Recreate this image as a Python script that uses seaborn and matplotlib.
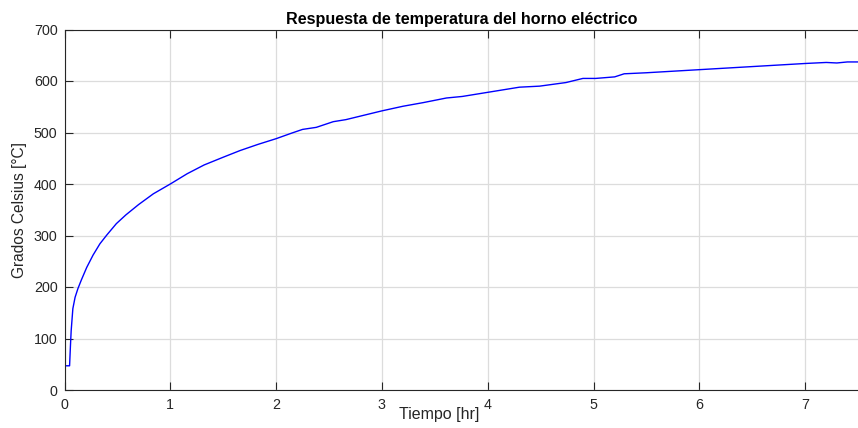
import matplotlib
matplotlib.use("Agg")
import matplotlib.pyplot as plt
import seaborn as sns
import pandas as pd

# Data
time_hr = [0, 0.048, 0.056, 0.063, 0.079, 0.1, 0.127, 0.16, 0.21, 0.27, 0.335, 0.4,
           0.49, 0.58, 0.7, 0.84, 1.0, 1.16, 1.32, 1.5, 1.66, 1.83, 2.0, 2.15,
           2.25, 2.38, 2.54, 2.66, 2.8, 3.0, 3.2, 3.39, 3.61, 3.76, 4.0, 4.3,
           4.49, 4.74, 4.9, 5.02, 5.2, 5.29, 5.5, 6.0, 6.5, 7.0, 7.1, 7.2, 7.3,
           7.4, 7.5]
temp_c = [47, 47, 85, 115, 158, 180, 197, 214, 238, 262, 284, 301,
          323, 340, 360, 381, 400, 420, 437, 452, 465, 477, 488, 499,
          506, 510, 521, 525, 532, 542, 551, 558, 567, 570, 578, 588,
          590, 597, 605, 605, 608, 614, 616, 622, 628, 634, 635, 636, 635,
          637, 637]
x_ticks = [0, 1, 2, 3, 4, 5, 6, 7]
y_ticks = [0, 100, 200, 300, 400, 500, 600, 700]

title = "Respuesta de temperatura del horno eléctrico"
xlabel = "Tiempo [hr]"
ylabel = "Grados Celsius [°C]"

sns.set_style("white")
plt.rcParams['font.family'] = ['Liberation Sans', 'DejaVu Sans']

df = pd.DataFrame({"t": time_hr, "T": temp_c})

fig = plt.figure(figsize=(8.58, 4.28), dpi=100)
ax = fig.add_axes([64.5 / 858, 1 - 390 / 428, (858 - 64.5) / 858, (390 - 29.5) / 428])

sns.lineplot(data=df, x="t", y="T", ax=ax, color=(0, 0, 1), linewidth=1.0,
             sort=False, estimator=None)

ax.set_xlim(0, 7.5)
ax.set_ylim(0, 700)
ax.set_xticks(x_ticks)
ax.set_yticks(y_ticks)
ax.grid(True, color="#dcdcdc", linewidth=0.9)
ax.set_axisbelow(True)

for side in ["top", "bottom", "left"]:
    ax.spines[side].set_visible(True)
    ax.spines[side].set_color("#262626")
    ax.spines[side].set_linewidth(0.8)
ax.spines["right"].set_visible(False)

ax.tick_params(axis="both", direction="in", length=5.8, width=0.8, color="#262626",
               labelsize=10.3, labelcolor="#262626", top=True, bottom=True, left=True, right=False)
ax.tick_params(axis="x", pad=6)
ax.tick_params(axis="y", pad=5)

ax.set_title(title, fontsize=11.6, fontweight="bold", color="black", pad=4)
ax.set_xlabel(xlabel, fontsize=11.5, color="#262626")
ax.xaxis.set_label_coords((439 - 64.5) / 793.5, -0.047)
ax.set_ylabel(ylabel, fontsize=11.2, color="#262626")
ax.yaxis.set_label_coords(-0.047, 0.5)

fig.savefig("out.png", dpi=100)
